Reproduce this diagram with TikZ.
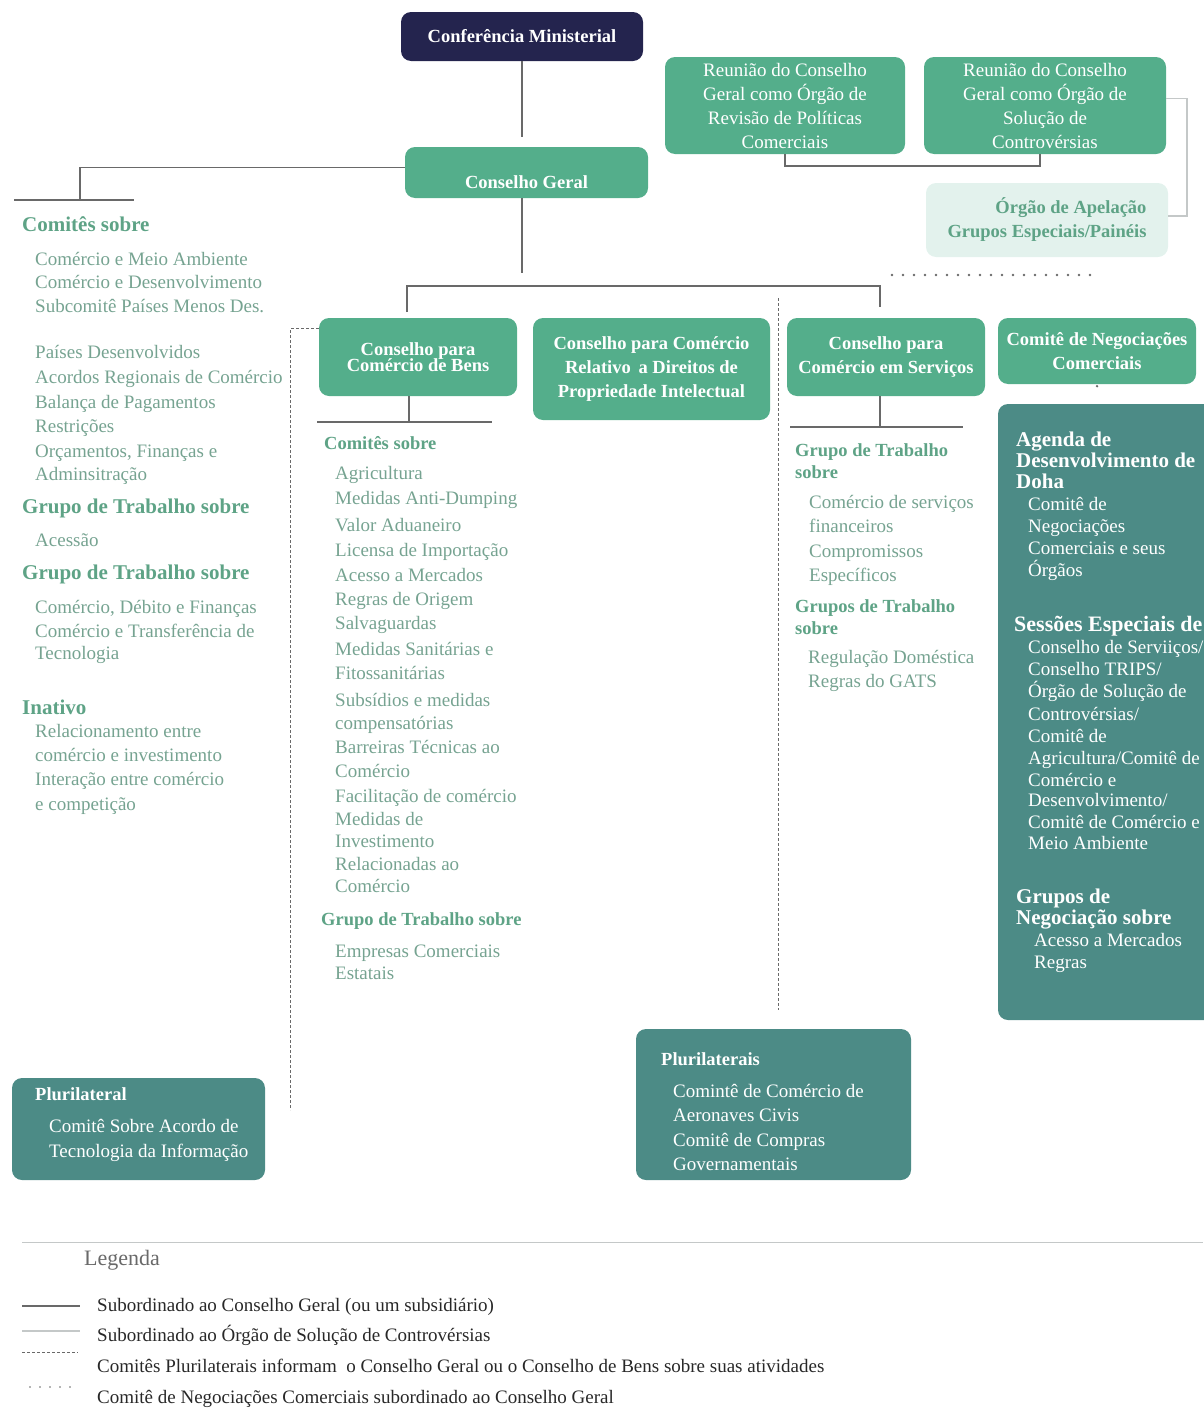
\documentclass[tikz,border=0pt]{standalone}
\usepackage{fontspec}
\setmainfont{Liberation Serif}
\definecolor{navy}{RGB}{36,36,78}
\definecolor{boxgreen}{RGB}{84,174,139}
\definecolor{darkteal}{RGB}{76,139,134}
\definecolor{paleteal}{RGB}{227,242,237}
\definecolor{headcol}{RGB}{94,163,134}
\definecolor{itemcol}{RGB}{118,163,145}
\definecolor{linegray}{RGB}{105,105,105}
\definecolor{lightgray}{RGB}{196,200,200}
\definecolor{legcol}{RGB}{40,40,40}
\begin{document}
\begin{tikzpicture}
  [ x=1pt, y=-1pt,
    box/.style={fill=boxgreen, rounded corners=10pt, text=white, align=center,
    inner sep=0pt, font=\bfseries\fontsize{18.5}{24}\selectfont},
    darkbox/.style={box, fill=darkteal},
    txt/.style={anchor=west, inner sep=0pt, text height=17pt, text depth=4pt,
    text=itemcol, font=\fontsize{19}{22}\selectfont},
    hd/.style={txt, text=headcol, font=\bfseries\fontsize{21}{24}\selectfont},
    hds/.style={txt, text=headcol, font=\bfseries\fontsize{18.5}{22}\selectfont},
    wtxt/.style={txt, text=white},
    whd/.style={txt, text=white, font=\bfseries\fontsize{21}{24}\selectfont},
    leg/.style={txt, text=legcol},
    link/.style={draw=linegray, line width=1.5pt},
    lightlink/.style={draw=lightgray, line width=1.5pt},
    dashlink/.style={draw=linegray, line width=1pt, dash pattern=on 3pt off 2pt},
    dotlink/.style={draw=linegray, line width=2.6pt, line cap=round, dash pattern=on 0pt off 11pt}
  ]
  \useasboundingbox (0,0) rectangle (1203,1408);

  % boxes
  \node (cm)  at ( 522.0,  36.5) [box, fill=navy, minimum width=242pt, minimum height=49pt] {Conferência Ministerial};
  \node (cg)  at ( 526.5, 172.5) [box, minimum width=243pt, minimum height=51pt,
                                  text height=41pt, text depth=10pt] {Conselho Geral};
  \node (rpc) at ( 785.0, 105.5) [box, minimum width=240pt, minimum height=97pt, font=\fontsize{19}{24}\selectfont]
    {Reunião do Conselho\\Geral como Órgão de\\Revisão de Políticas\\Comerciais};
  \node (rsc) at (1045.0, 105.5) [box, minimum width=242pt, minimum height=97pt, font=\fontsize{19}{24}\selectfont]
    {Reunião do Conselho\\Geral como Órgão de\\Solução de\\Controvérsias};
  \node (oap) at (1047.0, 220.0) [box, fill=paleteal, text=headcol, align=right, minimum width=242pt, minimum height=74pt]
    {Órgão de Apelação\\Grupos Especiais/Painéis};
  \node (cbens)  at ( 418.0, 357.0) [box, minimum width=198pt, minimum height=78pt] {Conselho para\\[-8pt]Comércio de Bens};
  \node (ctrips) at ( 651.5, 369.0) [box, minimum width=237pt, minimum height=102pt]
    {Conselho para Comércio\\Relativo \,a Direitos de\\Propriedade Intelectual};
  \node (cserv)  at ( 886.0, 357.0) [box, minimum width=198pt, minimum height=78pt] {Conselho para\\Comércio em Serviços};
  \node (tnc)    at (1097.0, 351.0) [box, minimum width=198pt, minimum height=66pt] {Comitê de Negociações\\Comerciais};
  \node (doha)   at (1113.0, 712.0) [darkbox, minimum width=230pt, minimum height=616pt] {};
  \node (plu1)   at ( 138.5,1129.0) [darkbox, minimum width=253pt, minimum height=102pt] {};
  \node (plu2)   at ( 773.5,1104.5) [darkbox, minimum width=275pt, minimum height=151pt] {};

  % connectors
  \coordinate (lc) at (80,200);
  \coordinate (bensbar) at (409,422);
  \coordinate (servbar) at (880,427);
  \coordinate (busl) at (407,312);
  \coordinate (busy) at (640,286);
  \coordinate (busr) at (880,307);
  \coordinate (d1) at (290,1110);
  \coordinate (d2) at (778,298);
  \coordinate (dt) at (892,275);
  \draw [link, shorten >=10pt] (cm.south) -- (cm.south |- cg.north);
  \draw [link] ([yshift=5pt]cg.west) -| (lc);
  \draw [link] (14,200) -- (134,200);
  \draw [link] (cm.south |- cg.south) -- ++(0,75);
  \draw [link] (busl) |- (busy) -| (busr);
  \draw [link] (cbens.south -| bensbar) -- (bensbar);
  \draw [link] (317,422) -- (492,422);
  \draw [link] (cserv.south -| servbar) -- (servbar);
  \draw [link] (790,427) -- (963,427);
  \draw [link] (rpc.south) -- ++(0,12) -| ([xshift=-5pt]rsc.south);
  \draw [lightlink] ([yshift=7pt]rsc.east) -- ++(21,0) |- ([yshift=4pt]oap.east);
  \draw [dotlink] (dt) -- (tnc.north |- dt);
  \draw [dotlink] ([yshift=-2pt]tnc.south) -- ++(0,1);
  \draw [dashlink] ([yshift=-11pt]cbens.north west) -| (d1);
  \draw [dashlink] (d2) -- ([yshift=19pt]plu2.north -| d2);

  % left column
  \node (lh1) at (22, 225) [hd]  {Comitês sobre};
  \node (l01) at (35, 259) [txt] {Comércio e Meio Ambiente};
  \node (l02) at (35, 282) [txt] {Comércio e Desenvolvimento};
  \node (l03) at (35, 306) [txt] {Subcomitê Países Menos Des.};
  \node (l04) at (35, 352) [txt] {Países Desenvolvidos};
  \node (l05) at (35, 377) [txt] {Acordos Regionais de Comércio};
  \node (l06) at (35, 402) [txt] {Balança de Pagamentos};
  \node (l07) at (35, 426) [txt] {Restrições};
  \node (l08) at (35, 451) [txt] {Orçamentos, Finanças e};
  \node (l09) at (35, 474) [txt] {Adminsitração};
  \node (lh2) at (22, 507) [hd]  {Grupo de Trabalho sobre};
  \node (l10) at (35, 540) [txt] {Acessão};
  \node (lh3) at (22, 573) [hd]  {Grupo de Trabalho sobre};
  \node (l11) at (35, 607) [txt] {Comércio, Débito e Finanças};
  \node (l12) at (35, 631) [txt] {Comércio e Transferência de};
  \node (l13) at (35, 653) [txt] {Tecnologia};
  \node (lh4) at (22, 708) [hd]  {Inativo};
  \node (l14) at (35, 731) [txt] {Relacionamento entre};
  \node (l15) at (35, 755) [txt] {comércio e investimento};
  \node (l16) at (35, 779) [txt] {Interação entre comércio};
  \node (l17) at (35, 804) [txt] {e competição};

  % goods column
  \node (mh1) at (324, 443) [hds] {Comitês sobre};
  \node (m01) at (335, 473) [txt] {Agricultura};
  \node (m02) at (335, 498) [txt] {Medidas Anti-Dumping};
  \node (m03) at (335, 525) [txt] {Valor Aduaneiro};
  \node (m04) at (335, 550) [txt] {Licensa de Importação};
  \node (m05) at (335, 575) [txt] {Acesso a Mercados};
  \node (m06) at (335, 599) [txt] {Regras de Origem};
  \node (m07) at (335, 623) [txt] {Salvaguardas};
  \node (m08) at (335, 649) [txt] {Medidas Sanitárias e};
  \node (m09) at (335, 673) [txt] {Fitossanitárias};
  \node (m10) at (335, 700) [txt] {Subsídios e medidas};
  \node (m11) at (335, 723) [txt] {compensatórias};
  \node (m12) at (335, 747) [txt] {Barreiras Técnicas ao};
  \node (m13) at (335, 771) [txt] {Comércio};
  \node (m14) at (335, 796) [txt] {Facilitação de comércio};
  \node (m15) at (335, 819) [txt] {Medidas de};
  \node (m16) at (335, 841) [txt] {Investimento};
  \node (m17) at (335, 864) [txt] {Relacionadas ao};
  \node (m18) at (335, 886) [txt] {Comércio};
  \node (mh2) at (321, 919) [hds] {Grupo de Trabalho sobre};
  \node (m19) at (335, 951) [txt] {Empresas Comerciais};
  \node (m20) at (335, 973) [txt] {Estatais};

  % services column
  \node (sh1) at (795, 450) [hds] {Grupo de Trabalho};
  \node (sh2) at (795, 472) [hds] {sobre};
  \node (s01) at (809, 502) [txt] {Comércio de serviços};
  \node (s02) at (809, 526) [txt] {financeiros};
  \node (s03) at (809, 551) [txt] {Compromissos};
  \node (s04) at (809, 575) [txt] {Específicos};
  \node (sh3) at (795, 606) [hds] {Grupos de Trabalho};
  \node (sh4) at (795, 628) [hds] {sobre};
  \node (s05) at (808, 657) [txt] {Regulação Doméstica};
  \node (s06) at (808, 681) [txt] {Regras do GATS};

  % doha box
  \node (dh1) at (1016, 440) [whd]  {Agenda de};
  \node (dh2) at (1016, 461) [whd]  {Desenvolvimento de};
  \node (dh3) at (1016, 482) [whd]  {Doha};
  \node (d01) at (1028, 504) [wtxt] {Comitê de};
  \node (d02) at (1028, 526) [wtxt] {Negociações};
  \node (d03) at (1028, 548) [wtxt] {Comerciais e seus};
  \node (d04) at (1028, 570) [wtxt] {Órgãos};
  \node (dh4) at (1014, 625) [whd, font=\bfseries\fontsize{22}{24}\selectfont] {Sessões Especiais de};
  \node (d05) at (1028, 647) [wtxt] {Conselho de Serviiços/};
  \node (d06) at (1028, 669) [wtxt] {Conselho TRIPS/};
  \node (d07) at (1028, 691) [wtxt] {Órgão de Solução de};
  \node (d08) at (1028, 714) [wtxt] {Controvérsias/};
  \node (d09) at (1028, 736) [wtxt] {Comitê de};
  \node (d10) at (1028, 758) [wtxt] {Agricultura/Comitê de};
  \node (d11) at (1028, 780) [wtxt] {Comércio e};
  \node (d12) at (1028, 800) [wtxt] {Desenvolvimento/};
  \node (d13) at (1028, 822) [wtxt] {Comitê de Comércio e};
  \node (d14) at (1028, 843) [wtxt] {Meio Ambiente};
  \node (dh5) at (1016, 897) [whd]  {Grupos de};
  \node (dh6) at (1016, 918) [whd]  {Negociação sobre};
  \node (d15) at (1034, 940) [wtxt] {Acesso a Mercados};
  \node (d16) at (1034, 962) [wtxt] {Regras};

  % plurilateral boxes
  \node (p1h) at ( 35,1094) [wtxt, font=\bfseries\fontsize{18.5}{22}\selectfont] {Plurilateral};
  \node (p01) at ( 49,1126) [wtxt] {Comitê Sobre Acordo de};
  \node (p02) at ( 49,1151) [wtxt] {Tecnologia da Informação};
  \node (p2h) at (661,1059) [wtxt, font=\bfseries\fontsize{18.5}{22}\selectfont] {Plurilaterais};
  \node (p03) at (673,1091) [wtxt] {Comintê de Comércio de};
  \node (p04) at (673,1115) [wtxt] {Aeronaves Civis};
  \node (p05) at (673,1140) [wtxt] {Comitê de Compras};
  \node (p06) at (673,1164) [wtxt] {Governamentais};

  % legend
  \draw [lightlink, line width=1pt] (22,1242) -- (1203,1242);
  \node (lg) at (84,1259) [leg, text=linegray, font=\fontsize{22}{24}\selectfont] {Legenda};
  \draw [link] (22,1306) -- (80,1306);
  \node (g1) at (97,1305) [leg] {Subordinado ao Conselho Geral (ou um subsidiário)};
  \draw [lightlink] (22,1331) -- (80,1331);
  \node (g2) at (97,1335) [leg] {Subordinado ao Órgão de Solução de Controvérsias};
  \draw [dashlink] (22,1352) -- (78,1352);
  \node (g3) at (97,1366) [leg] {Comitês Plurilaterais informam \ o Conselho Geral ou o Conselho de Bens sobre suas atividades};
  \draw [dotlink, line width=1.8pt, dash pattern=on 0pt off 10pt] (30,1387) -- (78,1387);
  \node (g4) at (97,1397) [leg] {Comitê de Negociações Comerciais subordinado ao Conselho Geral};
\end{tikzpicture}
\end{document}
